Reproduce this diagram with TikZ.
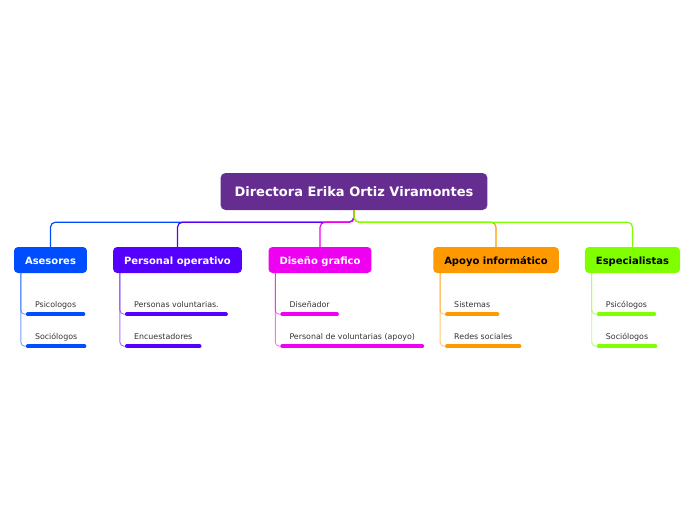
\documentclass[tikz,border=0pt]{standalone}
\usepackage{fontspec}
\setmainfont{DejaVu Sans}
\usetikzlibrary{calc}
\definecolor{cRoot}{HTML}{662D91}
\definecolor{cBlue}{HTML}{004CFF}
\definecolor{cViolet}{HTML}{5500FF}
\definecolor{cMag}{HTML}{EE00F0}
\definecolor{cOrange}{HTML}{FF9900}
\definecolor{cGreen}{HTML}{80FF00}
\definecolor{cText}{HTML}{333333}
\tikzset{
  rootbox/.style={fill=cRoot, text=white, rounded corners=5pt, font=\fontsize{13}{15}\selectfont\bfseries, minimum height=37pt, inner xsep=14pt, text height=1.0em, text depth=0.07em},
  childbox/.style={fill=#1, rounded corners=4pt, font=\fontsize{10}{12}\selectfont\bfseries, minimum height=26pt, inner xsep=11pt, text height=1.0em, text depth=0.07em},
  subitem/.style={anchor=west, inner xsep=7pt, inner ysep=1pt, text=cText, font=\fontsize{7.9}{9}\selectfont, text height=1.0em, text depth=0.07em},
  mainlink/.style={draw=#1, line width=1.2pt, rounded corners=5pt},
  sublink/.style={draw=#1, draw opacity=0.55, line width=0.9pt, rounded corners=4pt},
  uline/.style={draw=#1, line width=4pt, line cap=round},
}
\begin{document}
\begin{tikzpicture}[x=1pt,y=-1pt]
\useasboundingbox (0,0) rectangle (696,520);
\node[rootbox] (root) at (354,191.5) {Directora Erika Ortiz Viramontes};
\node[childbox=cBlue, text=white] (c1) at (50.5,260) {Asesores};
\node[childbox=cViolet, text=white] (c2) at (177.5,260) {Personal operativo};
\node[childbox=cMag, text=white] (c3) at (320,260) {Diseño grafico};
\node[childbox=cOrange, text=black] (c4) at (496,260) {Apoyo informático};
\node[childbox=cGreen, text=black] (c5) at (632.5,260) {Especialistas};
\coordinate (hub) at ($(root.south)+(0,12)$);
\foreach \c/\col in {c1/cBlue,c2/cViolet,c3/cMag,c4/cOrange,c5/cGreen}{
  \draw[mainlink=\col] (root.south) -- (hub) -| (\c.north);
}
% sub items
\foreach \c/\col/\a/\b/\na/\nb in {
  c1/cBlue/Psicologos/Sociólogos/s1a/s1b,
  c2/cViolet/Personas voluntarias./Encuestadores/s2a/s2b,
  c3/cMag/Diseñador/Personal de voluntarias (apoyo)/s3a/s3b,
  c4/cOrange/Sistemas/Redes sociales/s4a/s4b,
  c5/cGreen/Psicólogos/Sociólogos/s5a/s5b}{
  \node[subitem] (\na) at ($(\c.south west)+(14,29.5)$) {\a};
  \node[subitem] (\nb) at ($(\c.south west)+(14,62)$) {\b};
  \draw[sublink=\col] ($(\c.south west)+(7,0)$) |- ($(\na.west)+(0,11.5)$);
  \draw[sublink=\col] ($(\c.south west)+(7,0)$) |- ($(\nb.west)+(0,11)$);
  \draw[uline=\col] ($(\na.west)+(0,11.5)$) -- ($(\na.east)+(0,11.5)$);
  \draw[uline=\col] ($(\nb.west)+(0,11)$) -- ($(\nb.east)+(0,11)$);
}
\end{tikzpicture}
\end{document}
